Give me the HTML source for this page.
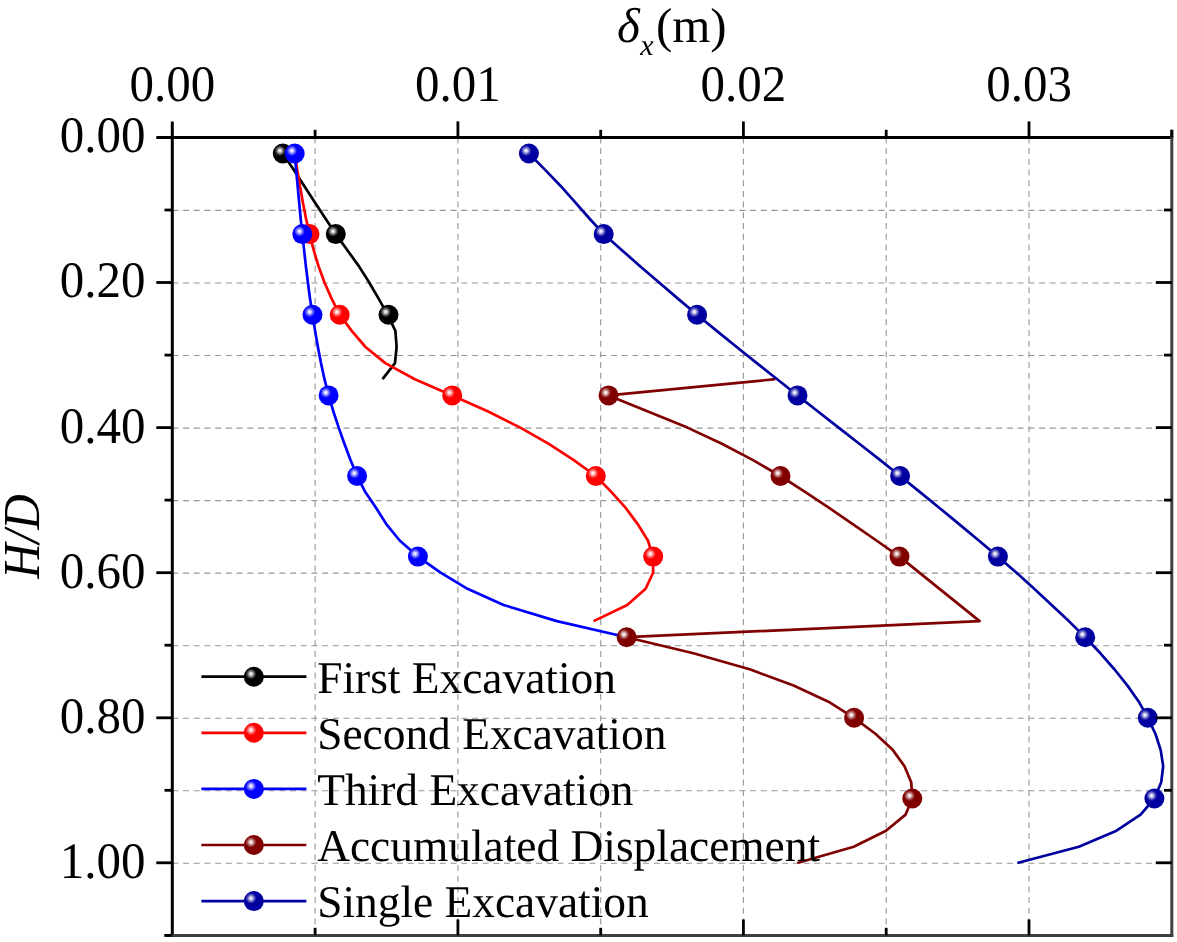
<!DOCTYPE html>
<html><head><meta charset="utf-8"><title>chart</title>
<style>html,body{margin:0;padding:0;background:#fff;}svg{display:block;will-change:transform;}text{font-family:"Liberation Serif",serif;fill:#000;text-rendering:geometricPrecision;}</style></head><body>
<svg width="1177" height="942" viewBox="0 0 1177 942">
<defs>
<radialGradient id="g_black" cx="0.36" cy="0.36" r="0.27" fx="0.36" fy="0.36"><stop offset="0" stop-color="#ffffff"/><stop offset="0.25" stop-color="#ffffff" stop-opacity="0.85"/><stop offset="0.6" stop-color="#ffffff" stop-opacity="0.4"/><stop offset="1" stop-color="#ffffff" stop-opacity="0"/></radialGradient>
<radialGradient id="g_red" cx="0.36" cy="0.36" r="0.27" fx="0.36" fy="0.36"><stop offset="0" stop-color="#ffffff"/><stop offset="0.25" stop-color="#ffffff" stop-opacity="0.85"/><stop offset="0.6" stop-color="#ffffff" stop-opacity="0.4"/><stop offset="1" stop-color="#ffffff" stop-opacity="0"/></radialGradient>
<radialGradient id="g_blue" cx="0.36" cy="0.36" r="0.27" fx="0.36" fy="0.36"><stop offset="0" stop-color="#ffffff"/><stop offset="0.25" stop-color="#ffffff" stop-opacity="0.85"/><stop offset="0.6" stop-color="#ffffff" stop-opacity="0.4"/><stop offset="1" stop-color="#ffffff" stop-opacity="0"/></radialGradient>
<radialGradient id="g_darkred" cx="0.36" cy="0.36" r="0.27" fx="0.36" fy="0.36"><stop offset="0" stop-color="#ffffff"/><stop offset="0.25" stop-color="#ffffff" stop-opacity="0.85"/><stop offset="0.6" stop-color="#ffffff" stop-opacity="0.4"/><stop offset="1" stop-color="#ffffff" stop-opacity="0"/></radialGradient>
<radialGradient id="g_navy" cx="0.36" cy="0.36" r="0.27" fx="0.36" fy="0.36"><stop offset="0" stop-color="#ffffff"/><stop offset="0.25" stop-color="#ffffff" stop-opacity="0.85"/><stop offset="0.6" stop-color="#ffffff" stop-opacity="0.4"/><stop offset="1" stop-color="#ffffff" stop-opacity="0"/></radialGradient>
</defs>
<rect width="1177" height="942" fill="#ffffff"/>
<g stroke="#969696" stroke-width="1.1" stroke-dasharray="6 4.7" fill="none"><line x1="315.1" y1="137.4" x2="315.1" y2="935.4"/><line x1="457.9" y1="137.4" x2="457.9" y2="935.4"/><line x1="600.7" y1="137.4" x2="600.7" y2="935.4"/><line x1="743.4" y1="137.4" x2="743.4" y2="935.4"/><line x1="886.2" y1="137.4" x2="886.2" y2="935.4"/><line x1="1029.0" y1="137.4" x2="1029.0" y2="935.4"/><line x1="172.3" y1="210.4" x2="1171.8" y2="210.4"/><line x1="172.3" y1="283.0" x2="1171.8" y2="283.0"/><line x1="172.3" y1="355.5" x2="1171.8" y2="355.5"/><line x1="172.3" y1="428.1" x2="1171.8" y2="428.1"/><line x1="172.3" y1="500.6" x2="1171.8" y2="500.6"/><line x1="172.3" y1="573.1" x2="1171.8" y2="573.1"/><line x1="172.3" y1="645.7" x2="1171.8" y2="645.7"/><line x1="172.3" y1="718.2" x2="1171.8" y2="718.2"/><line x1="172.3" y1="790.8" x2="1171.8" y2="790.8"/><line x1="172.3" y1="863.3" x2="1171.8" y2="863.3"/></g>
<path d="M282.8 153.5L293.5 169.6L304.1 185.7L314.6 201.9L325.1 218.0L335.8 234.1L347.4 250.2L359.0 266.4L369.2 282.5L378.6 298.6L387.6 314.7L395.4 330.9L396.6 347.0L395.0 363.1L382.5 379.2" fill="none" stroke="#000000" stroke-width="2.7" stroke-linejoin="round"/>
<circle cx="282.8" cy="153.5" r="10.0" fill="#000000"/><circle cx="282.8" cy="153.5" r="10.0" fill="url(#g_black)"/>
<circle cx="335.8" cy="234.1" r="10.0" fill="#000000"/><circle cx="335.8" cy="234.1" r="10.0" fill="url(#g_black)"/>
<circle cx="388.5" cy="314.7" r="10.0" fill="#000000"/><circle cx="388.5" cy="314.7" r="10.0" fill="url(#g_black)"/>
<path d="M294.7 153.5L297.2 169.6L299.9 185.7L302.8 201.9L305.9 218.0L309.5 234.1L313.7 250.2L318.6 266.4L324.5 282.5L331.6 298.6L339.7 314.7L351.7 330.9L365.5 347.0L385.3 363.1L414.9 379.2L452.2 395.4L488.2 411.5L520.3 427.6L548.4 443.7L573.4 459.9L595.8 476.0L611.5 492.1L625.9 508.2L637.9 524.4L647.9 540.5L653.1 556.6L653.1 572.7L645.6 588.8L627.3 605.0L593.6 621.1" fill="none" stroke="#ff0000" stroke-width="2.7" stroke-linejoin="round"/>
<circle cx="309.5" cy="234.1" r="10.0" fill="#ff0000"/><circle cx="309.5" cy="234.1" r="10.0" fill="url(#g_red)"/>
<circle cx="339.7" cy="314.7" r="10.0" fill="#ff0000"/><circle cx="339.7" cy="314.7" r="10.0" fill="url(#g_red)"/>
<circle cx="452.2" cy="395.4" r="10.0" fill="#ff0000"/><circle cx="452.2" cy="395.4" r="10.0" fill="url(#g_red)"/>
<circle cx="595.8" cy="476.0" r="10.0" fill="#ff0000"/><circle cx="595.8" cy="476.0" r="10.0" fill="url(#g_red)"/>
<circle cx="653.2" cy="556.6" r="10.0" fill="#ff0000"/><circle cx="653.2" cy="556.6" r="10.0" fill="url(#g_red)"/>
<path d="M294.7 153.5L296.1 169.6L297.6 185.7L299.1 201.9L300.6 218.0L302.3 234.1L304.1 250.2L305.9 266.4L307.9 282.5L310.0 298.6L312.5 314.7L315.1 330.9L317.9 347.0L321.0 363.1L324.5 379.2L328.6 395.4L333.4 411.5L338.7 427.6L344.4 443.7L350.5 459.9L357.1 476.0L365.3 492.1L376.3 508.2L386.5 524.4L399.7 540.5L417.9 556.6L440.6 572.7L467.5 588.8L503.6 605.0L556.9 621.1L626.9 637.2" fill="none" stroke="#0000ff" stroke-width="2.7" stroke-linejoin="round"/>
<circle cx="294.7" cy="153.5" r="10.0" fill="#0000ff"/><circle cx="294.7" cy="153.5" r="10.0" fill="url(#g_blue)"/>
<circle cx="302.3" cy="234.1" r="10.0" fill="#0000ff"/><circle cx="302.3" cy="234.1" r="10.0" fill="url(#g_blue)"/>
<circle cx="312.5" cy="314.7" r="10.0" fill="#0000ff"/><circle cx="312.5" cy="314.7" r="10.0" fill="url(#g_blue)"/>
<circle cx="328.6" cy="395.4" r="10.0" fill="#0000ff"/><circle cx="328.6" cy="395.4" r="10.0" fill="url(#g_blue)"/>
<circle cx="357.1" cy="476.0" r="10.0" fill="#0000ff"/><circle cx="357.1" cy="476.0" r="10.0" fill="url(#g_blue)"/>
<circle cx="417.9" cy="556.6" r="10.0" fill="#0000ff"/><circle cx="417.9" cy="556.6" r="10.0" fill="url(#g_blue)"/>
<path d="M775.3 379.2L608.5 395.4M608.5 395.4L648.0 411.5L687.4 427.6L721.9 443.7L752.6 459.9L780.5 476.0L805.4 492.1L829.5 508.2L853.1 524.4L876.4 540.5L899.5 556.6M899.5 556.6L979.6 621.1L626.7 637.2M626.7 637.2L693.4 653.3L750.4 669.5L793.6 685.6L828.4 701.7L854.1 717.8L875.7 734.0L892.9 750.1L904.5 766.2L911.2 782.3L912.3 798.5L905.6 814.6L886.0 830.7L853.7 846.8L797.3 863.0" fill="none" stroke="#800000" stroke-width="2.7" stroke-linejoin="round"/>
<circle cx="608.5" cy="395.4" r="10.0" fill="#800000"/><circle cx="608.5" cy="395.4" r="10.0" fill="url(#g_darkred)"/>
<circle cx="780.5" cy="476.0" r="10.0" fill="#800000"/><circle cx="780.5" cy="476.0" r="10.0" fill="url(#g_darkred)"/>
<circle cx="899.5" cy="556.6" r="10.0" fill="#800000"/><circle cx="899.5" cy="556.6" r="10.0" fill="url(#g_darkred)"/>
<circle cx="626.7" cy="637.2" r="10.0" fill="#800000"/><circle cx="626.7" cy="637.2" r="10.0" fill="url(#g_darkred)"/>
<circle cx="854.1" cy="717.8" r="10.0" fill="#800000"/><circle cx="854.1" cy="717.8" r="10.0" fill="url(#g_darkred)"/>
<circle cx="912.3" cy="798.5" r="10.0" fill="#800000"/><circle cx="912.3" cy="798.5" r="10.0" fill="url(#g_darkred)"/>
<path d="M528.9 153.5L544.9 169.6L560.4 185.7L574.8 201.9L589.0 218.0L603.7 234.1L621.9 250.2L640.4 266.4L659.1 282.5L677.9 298.6L697.1 314.7L716.7 330.9L736.7 347.0L756.8 363.1L777.2 379.2L797.5 395.4L818.0 411.5L838.6 427.6L859.3 443.7L879.9 459.9L900.1 476.0L920.0 492.1L939.8 508.2L959.4 524.4L978.8 540.5L997.9 556.6L1016.5 572.7L1034.2 588.8L1051.6 605.0L1068.8 621.1L1085.2 637.2L1100.4 653.3L1114.6 669.5L1127.5 685.6L1138.8 701.7L1147.8 717.8L1155.5 734.0L1160.7 750.1L1163.2 766.2L1161.2 782.3L1154.4 798.5L1140.6 814.6L1116.5 830.7L1078.9 846.8L1017.3 863.0" fill="none" stroke="#0000a0" stroke-width="2.7" stroke-linejoin="round"/>
<circle cx="528.9" cy="153.5" r="10.0" fill="#0000a0"/><circle cx="528.9" cy="153.5" r="10.0" fill="url(#g_navy)"/>
<circle cx="603.7" cy="234.1" r="10.0" fill="#0000a0"/><circle cx="603.7" cy="234.1" r="10.0" fill="url(#g_navy)"/>
<circle cx="697.1" cy="314.7" r="10.0" fill="#0000a0"/><circle cx="697.1" cy="314.7" r="10.0" fill="url(#g_navy)"/>
<circle cx="797.5" cy="395.4" r="10.0" fill="#0000a0"/><circle cx="797.5" cy="395.4" r="10.0" fill="url(#g_navy)"/>
<circle cx="900.1" cy="476.0" r="10.0" fill="#0000a0"/><circle cx="900.1" cy="476.0" r="10.0" fill="url(#g_navy)"/>
<circle cx="997.9" cy="556.6" r="10.0" fill="#0000a0"/><circle cx="997.9" cy="556.6" r="10.0" fill="url(#g_navy)"/>
<circle cx="1085.2" cy="637.2" r="10.0" fill="#0000a0"/><circle cx="1085.2" cy="637.2" r="10.0" fill="url(#g_navy)"/>
<circle cx="1147.8" cy="717.8" r="10.0" fill="#0000a0"/><circle cx="1147.8" cy="717.8" r="10.0" fill="url(#g_navy)"/>
<circle cx="1154.4" cy="798.5" r="10.0" fill="#0000a0"/><circle cx="1154.4" cy="798.5" r="10.0" fill="url(#g_navy)"/>
<line x1="201.4" y1="676.7" x2="306.4" y2="676.7" stroke="#000000" stroke-width="2.7"/>
<circle cx="253.8" cy="676.7" r="10.0" fill="#000000"/><circle cx="253.8" cy="676.7" r="10.0" fill="url(#g_black)"/>
<text x="317.2" y="692.5" font-size="45.4">First Excavation</text>
<line x1="201.4" y1="732.8" x2="306.4" y2="732.8" stroke="#ff0000" stroke-width="2.7"/>
<circle cx="253.8" cy="732.8" r="10.0" fill="#ff0000"/><circle cx="253.8" cy="732.8" r="10.0" fill="url(#g_red)"/>
<text x="317.2" y="748.6" font-size="45.4">Second Excavation</text>
<line x1="201.4" y1="788.9" x2="306.4" y2="788.9" stroke="#0000ff" stroke-width="2.7"/>
<circle cx="253.8" cy="788.9" r="10.0" fill="#0000ff"/><circle cx="253.8" cy="788.9" r="10.0" fill="url(#g_blue)"/>
<text x="317.2" y="804.7" font-size="45.4">Third Excavation</text>
<line x1="201.4" y1="845.0" x2="306.4" y2="845.0" stroke="#800000" stroke-width="2.7"/>
<circle cx="253.8" cy="845.0" r="10.0" fill="#800000"/><circle cx="253.8" cy="845.0" r="10.0" fill="url(#g_darkred)"/>
<text x="317.2" y="860.8" font-size="45.4">Accumulated Displacement</text>
<line x1="201.4" y1="901.1" x2="306.4" y2="901.1" stroke="#0000a0" stroke-width="2.7"/>
<circle cx="253.8" cy="901.1" r="10.0" fill="#0000a0"/><circle cx="253.8" cy="901.1" r="10.0" fill="url(#g_navy)"/>
<text x="317.2" y="916.9" font-size="45.4">Single Excavation</text>
<line x1="156.3" y1="137.4" x2="1173.2" y2="137.4" stroke="#000" stroke-width="3.0"/><line x1="172.3" y1="121.4" x2="172.3" y2="936.8" stroke="#000" stroke-width="3.0"/><line x1="1171.8" y1="129.8" x2="1171.8" y2="936.9" stroke="#404040" stroke-width="3.0"/><line x1="164.5" y1="935.4" x2="1173.3" y2="935.4" stroke="#404040" stroke-width="3.0"/><line x1="315.1" y1="129.8" x2="315.1" y2="137.4" stroke="#000" stroke-width="2.8"/><line x1="315.1" y1="935.4" x2="315.1" y2="927.8" stroke="#000" stroke-width="2.8"/><line x1="457.9" y1="121.4" x2="457.9" y2="137.4" stroke="#000" stroke-width="2.8"/><line x1="457.9" y1="935.4" x2="457.9" y2="919.4" stroke="#000" stroke-width="2.8"/><line x1="600.7" y1="129.8" x2="600.7" y2="137.4" stroke="#000" stroke-width="2.8"/><line x1="600.7" y1="935.4" x2="600.7" y2="927.8" stroke="#000" stroke-width="2.8"/><line x1="743.4" y1="121.4" x2="743.4" y2="137.4" stroke="#000" stroke-width="2.8"/><line x1="743.4" y1="935.4" x2="743.4" y2="919.4" stroke="#000" stroke-width="2.8"/><line x1="886.2" y1="129.8" x2="886.2" y2="137.4" stroke="#000" stroke-width="2.8"/><line x1="886.2" y1="935.4" x2="886.2" y2="927.8" stroke="#000" stroke-width="2.8"/><line x1="1029.0" y1="121.4" x2="1029.0" y2="137.4" stroke="#000" stroke-width="2.8"/><line x1="1029.0" y1="935.4" x2="1029.0" y2="919.4" stroke="#000" stroke-width="2.8"/><line x1="1171.8" y1="129.8" x2="1171.8" y2="137.4" stroke="#000" stroke-width="2.8"/><line x1="164.5" y1="210.0" x2="172.3" y2="210.0" stroke="#000" stroke-width="2.8"/><line x1="1171.8" y1="210.0" x2="1164.0" y2="210.0" stroke="#000" stroke-width="2.8"/><line x1="156.3" y1="282.5" x2="172.3" y2="282.5" stroke="#000" stroke-width="2.8"/><line x1="1171.8" y1="282.5" x2="1155.8" y2="282.5" stroke="#000" stroke-width="2.8"/><line x1="164.5" y1="355.1" x2="172.3" y2="355.1" stroke="#000" stroke-width="2.8"/><line x1="1171.8" y1="355.1" x2="1164.0" y2="355.1" stroke="#000" stroke-width="2.8"/><line x1="156.3" y1="427.6" x2="172.3" y2="427.6" stroke="#000" stroke-width="2.8"/><line x1="1171.8" y1="427.6" x2="1155.8" y2="427.6" stroke="#000" stroke-width="2.8"/><line x1="164.5" y1="500.1" x2="172.3" y2="500.1" stroke="#000" stroke-width="2.8"/><line x1="1171.8" y1="500.1" x2="1164.0" y2="500.1" stroke="#000" stroke-width="2.8"/><line x1="156.3" y1="572.7" x2="172.3" y2="572.7" stroke="#000" stroke-width="2.8"/><line x1="1171.8" y1="572.7" x2="1155.8" y2="572.7" stroke="#000" stroke-width="2.8"/><line x1="164.5" y1="645.2" x2="172.3" y2="645.2" stroke="#000" stroke-width="2.8"/><line x1="1171.8" y1="645.2" x2="1164.0" y2="645.2" stroke="#000" stroke-width="2.8"/><line x1="156.3" y1="717.8" x2="172.3" y2="717.8" stroke="#000" stroke-width="2.8"/><line x1="1171.8" y1="717.8" x2="1155.8" y2="717.8" stroke="#000" stroke-width="2.8"/><line x1="164.5" y1="790.3" x2="172.3" y2="790.3" stroke="#000" stroke-width="2.8"/><line x1="1171.8" y1="790.3" x2="1164.0" y2="790.3" stroke="#000" stroke-width="2.8"/><line x1="156.3" y1="862.8" x2="172.3" y2="862.8" stroke="#000" stroke-width="2.8"/><line x1="1171.8" y1="862.8" x2="1155.8" y2="862.8" stroke="#000" stroke-width="2.8"/><line x1="164.5" y1="935.4" x2="172.3" y2="935.4" stroke="#000" stroke-width="2.8"/>
<text transform="translate(172.3,101.1) scale(1,1.045)" font-size="49" text-anchor="middle">0.00</text>
<text transform="translate(457.9,101.1) scale(1,1.045)" font-size="49" text-anchor="middle">0.01</text>
<text transform="translate(743.4,101.1) scale(1,1.045)" font-size="49" text-anchor="middle">0.02</text>
<text transform="translate(1029.0,101.1) scale(1,1.045)" font-size="49" text-anchor="middle">0.03</text>
<text transform="translate(145.4,152.3) scale(1,1.045)" font-size="49" text-anchor="end">0.00</text>
<text transform="translate(145.4,297.4) scale(1,1.045)" font-size="49" text-anchor="end">0.20</text>
<text transform="translate(145.4,442.5) scale(1,1.045)" font-size="49" text-anchor="end">0.40</text>
<text transform="translate(145.4,587.6) scale(1,1.045)" font-size="49" text-anchor="end">0.60</text>
<text transform="translate(145.4,732.7) scale(1,1.045)" font-size="49" text-anchor="end">0.80</text>
<text transform="translate(145.4,877.7) scale(1,1.045)" font-size="49" text-anchor="end">1.00</text>
<text x="617" y="41.6" font-size="49"><tspan font-style="italic">δ</tspan><tspan font-style="italic" font-size="30" dx="0.5" dy="13.6">x</tspan><tspan dx="2.3" dy="-13.6">(m)</tspan></text>
<text transform="translate(39.3,536.6) rotate(-90) scale(1,1.06)" font-size="49" font-style="italic" text-anchor="middle">H/D</text>
</svg></body></html>
